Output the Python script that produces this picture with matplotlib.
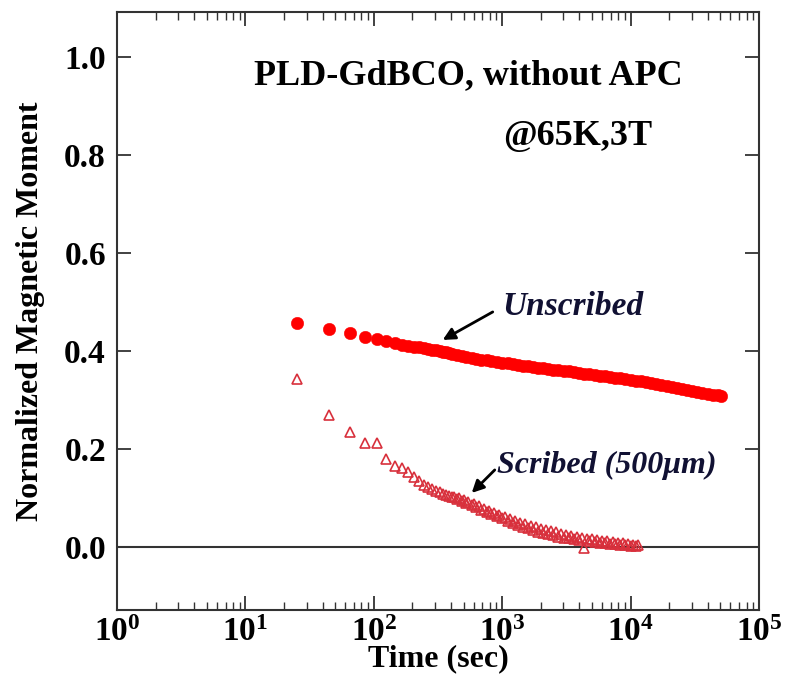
import matplotlib
matplotlib.use("Agg")
import matplotlib.pyplot as plt
from matplotlib.ticker import FixedLocator, FixedFormatter, LogLocator, NullFormatter

# Flux-creep relaxation at 65 K, 3 T: normalized magnetic moment versus time
unscribed_t = [25, 45, 65, 85, 105, 125, 145, 165, 185, 205, 225, 245, 265, 285,
               305, 325, 345, 365, 385, 405,
               445, 485, 525, 585, 625, 685, 765, 825, 905, 1005, 1105, 1205, 1325,
               1445, 1585, 1745, 1905, 2085, 2285, 2505, 2745, 3025, 3305, 3625,
               3985, 4365, 4785, 5245, 5745, 6305, 6925, 7585, 8325, 9125, 10005,
               10965, 12025, 13185, 14445, 15845, 17385, 19065, 20885, 22905,
               25125, 27545, 30205, 33105, 36305, 39805, 43645, 47865, 50805]
unscribed_m = [0.4565, 0.445, 0.436, 0.429, 0.4245, 0.420, 0.416, 0.413, 0.411,
               0.409, 0.407, 0.4055, 0.404, 0.4025, 0.401, 0.3995, 0.398, 0.397,
               0.396, 0.3945,
               0.3925, 0.390, 0.388, 0.386, 0.384, 0.382, 0.3805, 0.379, 0.3775,
               0.376, 0.3745, 0.373, 0.3715, 0.370, 0.369, 0.3675, 0.366, 0.365,
               0.3635, 0.362, 0.3605, 0.3595, 0.358, 0.3565, 0.355, 0.3535, 0.352,
               0.351, 0.3495, 0.348, 0.3465, 0.3455, 0.344, 0.3425, 0.341, 0.3395,
               0.338, 0.3365, 0.335, 0.333, 0.331, 0.329, 0.327, 0.325, 0.323,
               0.321, 0.319, 0.317, 0.315, 0.313, 0.311, 0.309, 0.308]

scribed_t = [25, 45, 65, 85, 105, 125, 145, 165, 185, 205, 225, 245, 265, 285,
             305, 325, 345, 365, 385, 405,
             425, 445, 465, 485, 505, 525, 545, 585, 605, 625, 665, 685, 725, 765,
             785, 825, 865, 905, 945, 1005, 1045, 1105, 1145, 1205, 1265, 1325,
             1385, 1445, 1505, 1585, 1665, 1745, 1825, 1905, 2005, 2085, 2185,
             2285, 2405, 2505, 2625, 2745, 2885, 3025, 3165, 3305, 3465, 3625,
             3805, 3985, 4165, 4365, 4565, 4785, 5005, 5245, 5505, 5745, 6025,
             6305, 6605, 6925, 7245, 7585, 7945, 8325, 8705, 9125, 9545, 10005,
             10465, 10965, 11485]
scribed_m = [0.342, 0.269, 0.235, 0.212, 0.212, 0.180, 0.165, 0.1605, 0.152,
             0.1435, 0.135, 0.127, 0.122, 0.118, 0.114, 0.111, 0.108, 0.106,
             0.104, 0.102,
             0.101, 0.097, 0.099, 0.094, 0.095, 0.090, 0.091, 0.086, 0.087,
             0.081, 0.083, 0.076, 0.078, 0.071, 0.073, 0.067, 0.069, 0.062,
             0.065, 0.058, 0.061, 0.053, 0.057, 0.049, 0.052, 0.045, 0.049,
             0.041, 0.046, 0.038, 0.043, 0.034, 0.040, 0.031, 0.037, 0.029,
             0.034, 0.026, 0.032, 0.024, 0.030, 0.021, 0.027, 0.019, 0.025,
             0.017, 0.023, 0.015, 0.020, 0.013, 0.018, -0.002, 0.016, 0.011,
             0.015, 0.009, 0.013, 0.008, 0.012, 0.007, 0.011, 0.006, 0.010,
             0.005, 0.008, 0.004, 0.007, 0.003, 0.006, 0.002, 0.004, 0.001,
             0.003]

xticks = [1, 10, 100, 1000, 10000, 100000]
xtick_labels = [r"$10^{0}$", r"$10^{1}$", r"$10^{2}$", r"$10^{3}$", r"$10^{4}$", r"$10^{5}$"]
yticks = [0.0, 0.2, 0.4, 0.6, 0.8, 1.0]
ytick_labels = ["0.0", "0.2", "0.4", "0.6", "0.8", "1.0"]

plt.rcParams["font.family"] = ["Liberation Serif", "DejaVu Serif"]
plt.rcParams["font.weight"] = "bold"
plt.rcParams["mathtext.fontset"] = "custom"
plt.rcParams["mathtext.rm"] = "Liberation Serif:bold"
plt.rcParams["mathtext.it"] = "Liberation Serif:bold"
plt.rcParams["mathtext.bf"] = "Liberation Serif:bold"

fig = plt.figure(figsize=(7.86, 6.75), dpi=100)
ax = fig.add_axes([0.1489, 0.0963, 0.8167, 0.8852])

ax.axhline(0.0, color="#333333", lw=1.5, zorder=1)

ax.plot(unscribed_t, unscribed_m, ls="none", marker="o", ms=9.0,
        mfc="#ff0000", mec="#ff0000", mew=0.3, zorder=3)
ax.plot(scribed_t, scribed_m, ls="none", marker="^", ms=6.8,
        mfc="none", mec="#d8303c", mew=1.2, zorder=2)

ax.set_xscale("log")
ax.set_xlim(1, 1e5)
ax.set_ylim(-0.129, 1.091)

ax.xaxis.set_major_locator(FixedLocator(xticks))
ax.xaxis.set_major_formatter(FixedFormatter(xtick_labels))
ax.xaxis.set_minor_locator(LogLocator(base=10, subs=range(2, 10), numticks=20))
ax.xaxis.set_minor_formatter(NullFormatter())
ax.yaxis.set_major_locator(FixedLocator(yticks))
ax.yaxis.set_major_formatter(FixedFormatter(ytick_labels))

ax.tick_params(axis="both", which="both", direction="in", top=True, right=True,
               color="#333333")
ax.tick_params(axis="both", which="major", length=10, width=1.3, labelsize=24)
ax.tick_params(axis="x", which="major", pad=5)
ax.tick_params(axis="y", which="major", pad=8)
ax.tick_params(axis="x", which="minor", length=6, width=1.0)
for s in ax.spines.values():
    s.set_color("#333333")
    s.set_linewidth(1.5)

ax.set_xlabel("Time (sec)", fontsize=23, fontweight="bold", labelpad=-3)
ax.set_ylabel("Normalized Magnetic Moment", fontsize=23, fontweight="bold", labelpad=14)

ax.text(11.6, 0.962, "PLD-GdBCO, without APC", fontsize=26, fontweight="bold",
        ha="left", va="center")
ax.text(1010, 0.837, "@65K,3T", fontsize=26, fontweight="bold", ha="left", va="center")

ax.text(1010, 0.49, "Unscribed", fontsize=24, fontweight="bold", style="italic",
        color="#111133", ha="left", va="center")
ax.text(906, 0.167, "Scribed (500\u03bcm)", fontsize=23, fontweight="bold",
        style="italic", color="#111133", ha="left", va="center")

arrow_style = dict(arrowstyle="-|>", color="black", lw=2.0, mutation_scale=18,
                   shrinkA=0, shrinkB=0)
ax.annotate("", xy=(344, 0.4224), xytext=(844, 0.4796), arrowprops=arrow_style)
ax.annotate("", xy=(579, 0.110), xytext=(875, 0.157), arrowprops=arrow_style)

fig.savefig("out.png", dpi=100, facecolor="white")
